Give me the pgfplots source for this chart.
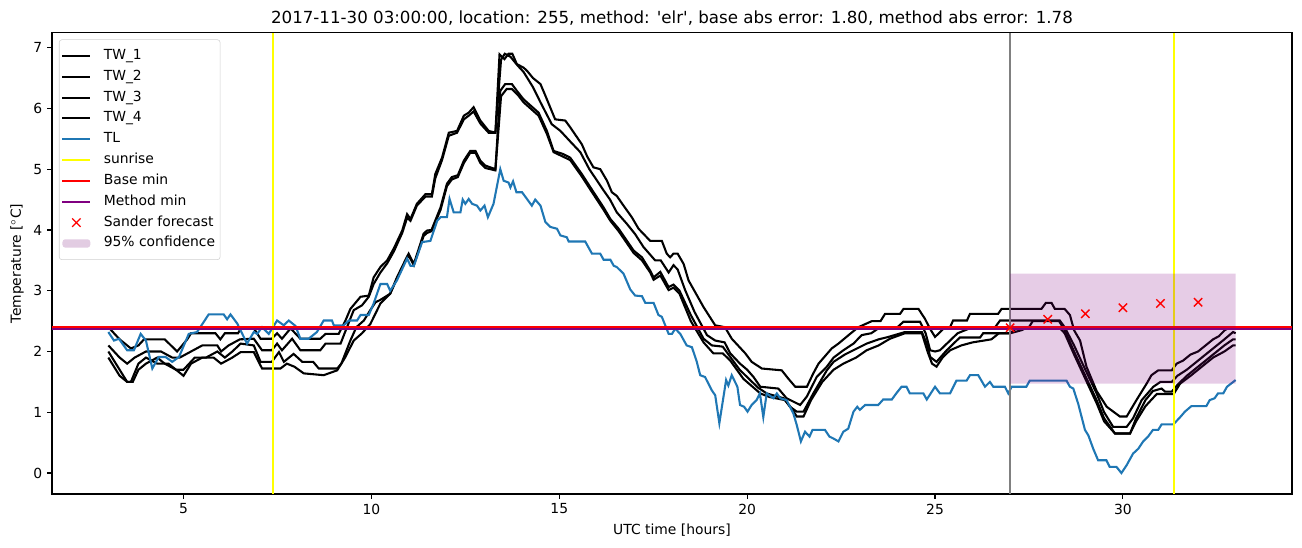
\documentclass[border=0pt]{standalone}
\usepackage{fontspec}
\setmainfont{DejaVu Sans}
\newfontfamily\dejavuplain{DejaVu Sans}
\usepackage{pgfplots}
\pgfplotsset{compat=1.18}
\definecolor{tlblue}{HTML}{1F77B4}
\definecolor{mplpurple}{HTML}{800080}
\definecolor{mplyellow}{HTML}{FFFF00}
\definecolor{mplgray}{HTML}{808080}
\definecolor{bandcol}{RGB}{226,204,226}
\pgfplotsset{
  xmarklegend/.style={legend image code/.code={\draw[##1] plot[mark=x, mark size=4.24pt] coordinates {(10pt,0pt)};}},
  bandlegend/.style={legend image code/.code={\path[fill=bandcol, draw=none] (0pt,-3pt) rectangle (20pt,3pt);}},
}
\begin{document}
\begin{tikzpicture}[x=1pt,y=1pt]
\useasboundingbox (0,0) rectangle (937.44,393.84);
\begin{axis}[
  at={(37.44pt,38.16pt)}, anchor=south west,
  scale only axis, width=892.8pt, height=332.1pt,
  xmin=1.5, xmax=34.5, ymin=-0.345, ymax=7.245,
  xtick={5,10,15,20,25,30}, ytick={0,1,2,3,4,5,6,7},
  tick align=outside, tick pos=left, major tick length=3.5pt,
  every tick/.style={black, line width=0.8pt},
  axis line style={line width=0.8pt},
  /pgf/number format/assume math mode=true,
  ticklabel style={font=\fontsize{10}{12}\selectfont},
  label style={font=\fontsize{10}{12}\selectfont},
  xlabel={UTC time [hours]},
  ylabel={Temperature [$^\circ$C]},
  title={2017-11-30 03:00:00, location: 255, method: {\dejavuplain'}elr{\dejavuplain'}, base abs error: 1.80, method abs error: 1.78},
  title style={font=\fontsize{12}{14}\selectfont, yshift=-4.5pt},
  legend style={at={(0,1)}, anchor=north west, xshift=5pt, yshift=-4.8pt,
    draw=black!18, rounded corners=2pt, font=\fontsize{10}{12}\selectfont,
    inner xsep=1.6pt, inner ysep=4.2pt, column sep=7pt,
    nodes={inner xsep=2pt, inner ysep=2.55pt, text height=7.4pt, text depth=2.5pt},
    row sep=0pt},
  legend cell align=left,
  legend image code/.code={\draw[#1] (0pt,0pt) -- (20pt,0pt);},
  clip=true,
]
% TW lines
\addplot[black, line width=1.5pt, forget plot] coordinates {
(3.0,2.4)(3.3,2.2)(3.6,2.05)(3.8,2.1)(3.95,2.2)(4.5,2.2)(4.83,2.0)(5.1,2.2)(5.2,2.3)(5.85,2.3)(5.98,2.2)(6.1,2.3)(6.45,2.3)(6.55,2.4)(6.85,2.4)(7.05,2.21)(7.35,2.21)(7.49,2.3)(7.62,2.21)(7.85,2.38)(8.11,2.21)(8.64,2.21)(8.78,2.29)(9.13,2.29)(9.31,2.51)(9.44,2.7)(9.71,2.9)(9.93,2.92)(10.06,3.22)(10.24,3.39)(10.42,3.5)(10.6,3.7)(10.82,3.99)(10.95,4.26)(11.04,4.18)(11.21,4.43)(11.44,4.59)(11.61,4.59)(11.7,4.92)(11.88,5.19)(12.06,5.6)(12.28,5.63)(12.46,5.88)(12.59,5.93)(12.72,6.02)(12.9,5.8)(13.12,5.63)(13.3,5.6)(13.41,6.89)(13.54,6.81)(13.65,6.9)(13.75,6.9)(13.87,6.73)(14.05,6.67)(14.14,6.62)(14.3,6.5)(14.5,6.4)(14.63,6.21)(14.89,5.82)(15.16,5.8)(15.29,5.69)(15.6,5.41)(15.75,5.2)(15.91,5.03)(16.09,5.0)(16.27,4.81)(16.4,4.62)(16.53,4.56)(16.71,4.4)(16.93,4.21)(17.11,4.02)(17.42,3.82)(17.73,3.82)(17.86,3.61)(17.95,3.55)(18.04,3.61)(18.15,3.61)(18.31,3.44)(18.44,3.17)(18.84,2.73)(19.15,2.43)(19.41,2.40)(19.59,2.21)(19.95,1.97)(20.12,1.83)(20.39,1.72)(20.92,1.69)(21.1,1.55)(21.28,1.42)(21.59,1.42)(21.76,1.64)(21.9,1.80)(22.25,2.05)(22.43,2.13)(22.74,2.29)(22.96,2.40)(23.32,2.5)(23.55,2.5)(23.67,2.62)(24.07,2.62)(24.16,2.70)(24.56,2.70)(24.73,2.54)(24.87,2.37)(25.0,2.24)(25.27,2.40)(25.4,2.4)(25.48,2.51)(25.85,2.51)(25.93,2.62)(26.68,2.62)(26.77,2.70)(27.83,2.70)(27.95,2.80)(28.1,2.80)(28.19,2.70)(28.45,2.70)(28.59,2.6)(28.7,2.35)(28.86,2.18)(29.03,1.75)(29.3,1.35)(29.57,1.09)(29.92,0.93)(30.1,0.93)(30.36,1.2)(30.63,1.47)(30.76,1.61)(30.94,1.69)(31.3,1.69)(31.43,1.8)(31.6,1.85)(31.8,1.95)(32.0,2.0)(32.2,2.1)(32.4,2.2)(32.55,2.25)(32.71,2.35)(32.85,2.4)(33.0,2.4)
};
\addplot[black, line width=1.5pt, forget plot] coordinates {
(3.0,2.1)(3.3,1.9)(3.5,1.8)(3.7,1.9)(4.0,2.0)(4.4,2.0)(4.7,1.9)(4.9,1.9)(5.2,2.0)(5.5,2.1)(5.9,2.1)(6.0,2.0)(6.2,2.1)(6.5,2.2)(6.87,2.21)(7.09,2.02)(7.35,2.02)(7.49,2.13)(7.62,2.02)(7.89,2.21)(8.11,2.02)(8.64,2.02)(8.78,2.13)(9.18,2.13)(9.35,2.4)(9.53,2.68)(9.75,2.76)(9.93,2.9)(10.06,3.11)(10.24,3.3)(10.42,3.45)(10.6,3.65)(10.82,3.95)(10.95,4.2)(11.04,4.15)(11.21,4.4)(11.44,4.55)(11.61,4.55)(11.7,4.85)(11.88,5.15)(12.06,5.55)(12.28,5.6)(12.46,5.82)(12.59,5.88)(12.72,5.95)(12.9,5.75)(13.12,5.6)(13.3,5.6)(13.45,6.8)(13.55,6.9)(13.7,6.85)(13.9,6.7)(14.05,6.6)(14.3,6.35)(14.5,6.1)(14.8,5.74)(15.03,5.63)(15.3,5.45)(15.56,5.28)(15.8,5.0)(16.18,4.65)(16.35,4.5)(16.53,4.29)(16.8,4.1)(17.02,3.93)(17.24,3.72)(17.55,3.5)(17.7,3.5)(17.91,3.3)(18.04,3.42)(18.15,3.35)(18.35,3.01)(18.6,2.65)(18.93,2.27)(19.15,2.18)(19.4,2.15)(19.55,1.97)(19.81,1.80)(20.0,1.7)(20.17,1.58)(20.35,1.42)(20.83,1.39)(21.05,1.23)(21.41,1.12)(21.59,1.26)(21.85,1.58)(22.12,1.75)(22.3,1.9)(22.56,2.02)(22.83,2.13)(23.05,2.27)(23.3,2.3)(23.54,2.40)(24.0,2.4)(24.16,2.49)(24.6,2.49)(24.75,2.3)(24.87,2.02)(25.0,2.0)(25.13,2.02)(25.4,2.18)(25.6,2.3)(26.0,2.4)(26.6,2.4)(26.73,2.51)(28.32,2.51)(28.45,2.4)(28.7,2.1)(29.0,1.7)(29.3,1.31)(29.5,1.0)(29.74,0.76)(30.1,0.76)(30.27,0.9)(30.5,1.2)(30.81,1.42)(31.0,1.5)(31.3,1.5)(31.45,1.6)(31.7,1.7)(31.9,1.8)(32.1,1.9)(32.3,2.0)(32.5,2.1)(32.7,2.2)(32.93,2.32)(33.0,2.3)
};
\addplot[black, line width=1.5pt, forget plot] coordinates {
(3.0,2.0)(3.3,1.7)(3.5,1.5)(3.6,1.5)(3.8,1.8)(4.0,1.9)(4.3,1.8)(4.6,1.8)(4.8,1.7)(5.0,1.7)(5.3,1.9)(5.6,1.9)(5.9,2.0)(6.1,1.9)(6.3,2.0)(6.52,2.13)(6.87,2.1)(7.05,1.83)(7.35,1.83)(7.54,1.99)(7.67,1.83)(7.93,1.96)(8.16,1.83)(8.45,1.83)(8.6,1.72)(9.09,1.72)(9.2,1.8)(9.44,2.18)(9.6,2.4)(9.8,2.51)(9.97,2.68)(10.11,2.81)(10.24,2.85)(10.5,2.95)(10.68,3.22)(10.9,3.5)(10.99,3.61)(11.13,3.44)(11.39,3.94)(11.48,3.99)(11.6,4.0)(11.84,4.37)(12.01,4.76)(12.14,4.87)(12.3,4.9)(12.46,5.14)(12.63,5.3)(12.77,5.3)(12.9,5.14)(13.03,5.06)(13.3,5.0)(13.43,6.29)(13.56,6.4)(13.74,6.4)(13.87,6.29)(14.05,6.15)(14.14,6.1)(14.45,5.93)(14.67,5.63)(14.85,5.3)(15.1,5.25)(15.29,5.19)(15.6,4.92)(15.83,4.7)(16.18,4.37)(16.36,4.18)(16.58,4.02)(16.98,3.66)(17.2,3.55)(17.42,3.33)(17.51,3.22)(17.69,3.31)(17.91,3.06)(18.04,3.1)(18.2,3.0)(18.5,2.6)(18.84,2.21)(19.06,2.10)(19.35,2.08)(19.55,1.91)(19.8,1.7)(20.08,1.53)(20.3,1.4)(20.52,1.31)(20.97,1.23)(21.14,1.09)(21.32,1.01)(21.5,1.01)(21.76,1.31)(22.12,1.69)(22.3,1.83)(22.6,1.95)(23.18,2.13)(23.5,2.2)(23.76,2.24)(24.2,2.32)(24.65,2.32)(24.8,2.1)(24.87,1.91)(25.04,1.83)(25.31,2.02)(25.66,2.23)(26.2,2.23)(26.28,2.30)(27.0,2.3)(27.2,2.4)(27.5,2.4)(27.6,2.5)(28.3,2.5)(28.45,2.35)(28.7,2.0)(29.0,1.6)(29.3,1.2)(29.5,0.9)(29.79,0.65)(30.19,0.65)(30.35,0.9)(30.6,1.2)(30.8,1.35)(31.03,1.39)(31.12,1.34)(31.3,1.34)(31.45,1.45)(31.7,1.6)(31.9,1.7)(32.1,1.8)(32.3,1.9)(32.5,2.0)(32.7,2.1)(32.93,2.2)(33.0,2.2)
};
\addplot[black, line width=1.5pt, forget plot] coordinates {
(3.0,1.9)(3.3,1.6)(3.5,1.5)(3.65,1.5)(3.8,1.7)(4.0,1.8)(4.3,1.9)(4.5,1.8)(4.8,1.7)(5.0,1.6)(5.2,1.8)(5.5,1.9)(5.8,1.9)(6.0,1.8)(6.3,1.9)(6.52,1.99)(6.87,1.99)(7.09,1.72)(7.58,1.72)(7.75,1.8)(7.95,1.75)(8.2,1.64)(8.73,1.61)(9.09,1.69)(9.3,1.9)(9.53,2.18)(9.75,2.3)(9.97,2.45)(10.24,2.79)(10.5,2.95)(10.68,3.2)(10.9,3.48)(10.99,3.58)(11.13,3.42)(11.39,3.9)(11.48,3.95)(11.6,3.98)(11.84,4.33)(12.01,4.72)(12.14,4.83)(12.3,4.87)(12.46,5.1)(12.63,5.27)(12.77,5.27)(12.9,5.1)(13.03,5.02)(13.3,4.98)(13.45,6.2)(13.6,6.32)(13.74,6.32)(13.9,6.22)(14.05,6.1)(14.45,5.88)(14.67,5.58)(14.85,5.28)(15.29,5.15)(15.6,4.88)(15.83,4.66)(16.18,4.33)(16.36,4.15)(16.58,3.98)(16.98,3.62)(17.2,3.5)(17.42,3.3)(17.51,3.18)(17.69,3.25)(17.91,3.01)(18.04,3.05)(18.2,2.95)(18.5,2.5)(18.84,2.15)(19.1,1.97)(19.35,1.97)(19.55,1.85)(19.9,1.55)(20.35,1.31)(20.6,1.25)(21.01,1.2)(21.2,1.05)(21.32,0.93)(21.5,0.93)(21.7,1.2)(22.0,1.5)(22.3,1.7)(22.56,1.80)(22.9,1.9)(23.18,2.02)(23.5,2.1)(23.8,2.21)(24.2,2.3)(24.65,2.3)(24.8,2.0)(24.92,1.80)(25.04,1.75)(25.2,1.9)(25.4,2.02)(25.7,2.1)(26.0,2.15)(26.5,2.2)(26.7,2.3)(27.0,2.30)(27.3,2.35)(27.48,2.4)(28.3,2.4)(28.45,2.3)(28.7,1.95)(29.0,1.55)(29.3,1.15)(29.5,0.85)(29.79,0.65)(30.19,0.65)(30.35,0.85)(30.6,1.1)(30.9,1.3)(31.35,1.3)(31.52,1.47)(31.8,1.6)(32.1,1.75)(32.4,1.9)(32.7,2.0)(32.93,2.1)(33.0,2.1)
};
% TL
\addplot[tlblue, line width=1.5pt, forget plot] coordinates {
(3.0,2.32)(3.15,2.18)(3.28,2.21)(3.5,2.02)(3.68,2.02)(3.86,2.29)(4.0,2.18)(4.17,1.72)(4.34,1.91)(4.52,1.91)(4.7,1.83)(4.88,1.91)(5.14,2.29)(5.36,2.32)(5.67,2.61)(6.07,2.61)(6.16,2.53)(6.25,2.61)(6.43,2.46)(6.69,2.13)(6.87,2.32)(6.96,2.29)(7.09,2.40)(7.27,2.29)(7.49,2.51)(7.67,2.43)(7.8,2.51)(7.98,2.42)(8.11,2.21)(8.33,2.21)(8.55,2.32)(8.73,2.51)(8.95,2.51)(9.0,2.43)(9.26,2.43)(9.4,2.51)(9.62,2.51)(9.71,2.6)(9.93,2.6)(10.06,2.79)(10.24,3.11)(10.42,3.11)(10.5,3.0)(10.68,3.17)(10.95,3.53)(11.04,3.41)(11.13,3.41)(11.35,3.8)(11.57,3.82)(11.75,4.15)(11.84,4.21)(12.01,4.21)(12.08,4.51)(12.19,4.29)(12.37,4.29)(12.43,4.5)(12.5,4.43)(12.59,4.51)(12.68,4.43)(12.81,4.4)(12.9,4.32)(13.01,4.40)(13.1,4.21)(13.25,4.43)(13.43,5.0)(13.52,4.81)(13.65,4.78)(13.7,4.70)(13.77,4.80)(13.86,4.62)(14.01,4.62)(14.14,4.51)(14.27,4.4)(14.36,4.5)(14.5,4.4)(14.63,4.13)(14.76,4.05)(14.94,4.02)(15.03,3.91)(15.2,3.88)(15.25,3.81)(15.69,3.81)(15.87,3.61)(16.09,3.61)(16.18,3.51)(16.36,3.51)(16.45,3.41)(16.53,3.39)(16.71,3.28)(16.89,3.02)(17.02,2.92)(17.2,2.91)(17.29,2.8)(17.51,2.8)(17.64,2.6)(17.73,2.57)(17.82,2.43)(17.91,2.29)(18.0,2.29)(18.09,2.38)(18.17,2.32)(18.22,2.29)(18.39,2.1)(18.53,2.07)(18.66,1.83)(18.75,1.61)(18.88,1.58)(19.06,1.36)(19.15,1.28)(19.26,0.82)(19.44,1.53)(19.5,1.44)(19.59,1.61)(19.74,1.42)(19.81,1.12)(19.92,1.09)(20.01,1.01)(20.12,1.12)(20.25,1.2)(20.34,1.31)(20.43,0.92)(20.52,1.31)(20.7,1.23)(20.79,1.31)(20.88,1.23)(21.05,1.2)(21.23,0.98)(21.32,0.79)(21.43,0.52)(21.54,0.68)(21.66,0.6)(21.74,0.71)(22.07,0.71)(22.19,0.6)(22.29,0.57)(22.43,0.52)(22.56,0.68)(22.69,0.73)(22.83,1.01)(22.93,1.09)(23.0,1.04)(23.14,1.12)(23.49,1.12)(23.62,1.21)(23.85,1.21)(23.98,1.32)(24.11,1.42)(24.24,1.42)(24.33,1.31)(24.69,1.31)(24.78,1.21)(25.0,1.42)(25.13,1.31)(25.4,1.31)(25.57,1.52)(25.84,1.52)(25.93,1.61)(26.15,1.61)(26.33,1.42)(26.46,1.5)(26.55,1.42)(26.86,1.42)(26.95,1.31)(27.04,1.42)(27.43,1.42)(27.52,1.52)(28.5,1.52)(28.59,1.42)(28.68,1.39)(28.81,1.14)(28.99,0.71)(29.08,0.62)(29.21,0.40)(29.34,0.21)(29.56,0.21)(29.65,0.1)(29.83,0.1)(29.96,0.0)(30.1,0.13)(30.27,0.32)(30.41,0.4)(30.54,0.52)(30.67,0.6)(30.8,0.71)(30.94,0.71)(31.03,0.8)(31.34,0.8)(31.51,0.91)(31.65,1.01)(31.82,1.1)(32.22,1.1)(32.31,1.2)(32.44,1.23)(32.53,1.31)(32.67,1.31)(32.77,1.42)(33.0,1.53)
};
% sunrise
\addplot[mplyellow, line width=1.5pt, forget plot] coordinates {(7.37,-0.345)(7.37,7.245)};
\addplot[mplyellow, line width=1.5pt, forget plot] coordinates {(31.35,-0.345)(31.35,7.245)};
% base min and method min
\addplot[red, line width=1.5pt, forget plot] coordinates {(1.5,2.395)(34.5,2.395)};
\addplot[mplpurple, line width=1.5pt, forget plot] coordinates {(1.5,2.375)(34.5,2.375)};
% forecast time
\addplot[mplgray, line width=1.5pt, forget plot] coordinates {(27.0,-0.345)(27.0,7.245)};
% Sander forecast
\addplot[red, only marks, mark=x, mark size=4.24pt, line width=1pt, forget plot] coordinates {(27,2.39)(28,2.53)(29,2.62)(30,2.72)(31,2.79)(32,2.81)};
% confidence band
\addplot[fill=mplpurple, fill opacity=0.2, draw=none, forget plot] coordinates {(27,1.47)(33,1.47)(33,3.28)(27,3.28)(27,1.47)};
% legend
\addlegendimage{black, line width=1.5pt}\addlegendentry{TW\_1}
\addlegendimage{black, line width=1.5pt}\addlegendentry{TW\_2}
\addlegendimage{black, line width=1.5pt}\addlegendentry{TW\_3}
\addlegendimage{black, line width=1.5pt}\addlegendentry{TW\_4}
\addlegendimage{tlblue, line width=1.5pt}\addlegendentry{TL}
\addlegendimage{mplyellow, line width=1.5pt}\addlegendentry{sunrise}
\addlegendimage{red, line width=1.5pt}\addlegendentry{Base min}
\addlegendimage{mplpurple, line width=1.5pt}\addlegendentry{Method min}
\addlegendimage{red, line width=1pt, xmarklegend}\addlegendentry{Sander forecast}
\addlegendimage{bandlegend}\addlegendentry{95\% confidence}
\end{axis}
\end{tikzpicture}
\end{document}
